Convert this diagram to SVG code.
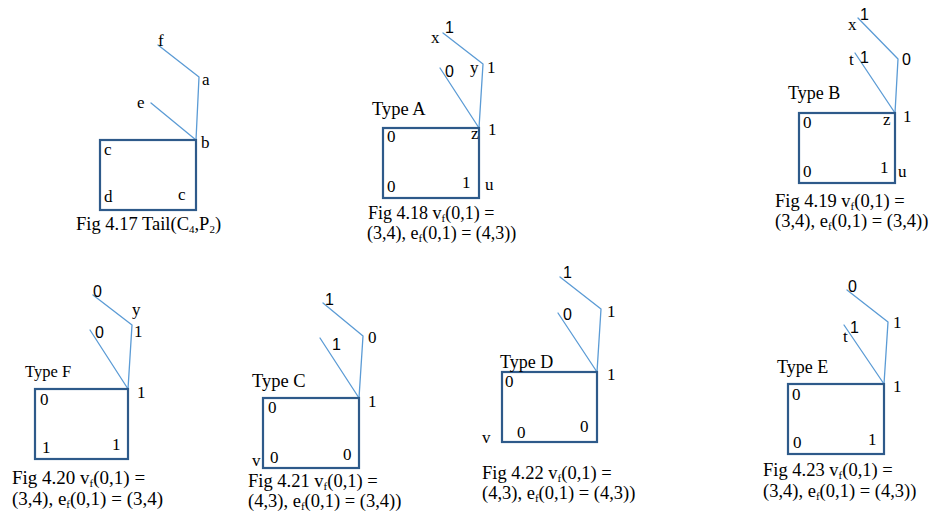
<svg xmlns="http://www.w3.org/2000/svg" width="933" height="525" viewBox="0 0 933 525">
<style>
.bg{fill:#ffffff}
.edge{stroke:#5B9BD5;stroke-width:1.3;fill:none;stroke-linecap:round;stroke-linejoin:round}
.box{stroke:#2E5A8A;stroke-width:2.2;fill:none}
.t{font-family:"Liberation Serif","Times New Roman",serif;font-size:17px;fill:#000}
.s{font-family:"Liberation Sans",Arial,sans-serif;font-size:16px;fill:#000}
.sub{font-size:11px}
</style>
<rect class="bg" x="0" y="0" width="933" height="525"/>

<g id="fig417">
  <g id="fig417-connectors">
    <polyline class="edge" points="158,45 199,77 196,140"/>
    <line class="edge" x1="151" y1="103" x2="196" y2="140"/>
  </g>
  <g id="fig417-cycle"><rect class="box" x="100" y="140" width="96" height="70"/></g>
  <g id="fig417-labels">
    <text class="t" x="158" y="46">f</text>
    <text class="t" x="202" y="85">a</text>
    <text class="t" x="137" y="108">e</text>
    <text class="t" x="201" y="148">b</text>
    <text class="t" x="104" y="155">c</text>
    <text class="t" x="104" y="202">d</text>
    <text class="t" x="178" y="200">c</text>
    <text class="t" x="76" y="230" style="font-size:18.5px">Fig 4.17 Tail(C<tspan class="sub" dy="3">4</tspan><tspan dy="-3">,P</tspan><tspan class="sub" dy="3">2</tspan><tspan dy="-3">)</tspan></text>
  </g>
</g>

<g id="fig418">
  <g id="fig418-connectors">
    <polyline class="edge" points="443,33 483,64 479,128"/>
    <line class="edge" x1="440" y1="68" x2="479" y2="128"/>
  </g>
  <g id="fig418-cycle"><rect class="box" x="383" y="128" width="96" height="70"/></g>
  <g id="fig418-labels">
    <text class="t" x="431" y="43">x</text>
    <text class="s" x="445" y="33">1</text>
    <text class="s" x="445" y="77">0</text>
    <text class="t" x="470" y="73">y</text>
    <text class="t" x="487" y="73">1</text>
    <text class="t" x="372" y="115" style="font-size:18.5px">Type A</text>
    <text class="t" x="488" y="135">1</text>
    <text class="t" x="471" y="139">z</text>
    <text class="t" x="387" y="142">0</text>
    <text class="t" x="387" y="192">0</text>
    <text class="t" x="462" y="188">1</text>
    <text class="t" x="485" y="190">u</text>
    <text class="t" x="368" y="219" style="font-size:18px">Fig 4.18 v<tspan class="sub" dy="3">f</tspan><tspan dy="-3">(0,1) =</tspan></text>
    <text class="t" x="367" y="239" style="font-size:18px">(3,4), e<tspan class="sub" dy="3">f</tspan><tspan dy="-3">(0,1) = (4,3))</tspan></text>
  </g>
</g>

<g id="fig419">
  <g id="fig419-connectors">
    <polyline class="edge" points="858,18 898,59 895,113"/>
    <line class="edge" x1="855" y1="53" x2="895" y2="113"/>
  </g>
  <g id="fig419-cycle"><rect class="box" x="799" y="113" width="96" height="70"/></g>
  <g id="fig419-labels">
    <text class="t" x="848" y="30">x</text>
    <text class="s" x="860" y="20">1</text>
    <text class="s" x="902" y="65">0</text>
    <text class="t" x="849" y="65">t</text>
    <text class="s" x="860" y="63">1</text>
    <text class="t" x="788" y="99" style="font-size:18px">Type B</text>
    <text class="t" x="903" y="122">1</text>
    <text class="t" x="883" y="125">z</text>
    <text class="t" x="803" y="128">0</text>
    <text class="t" x="803" y="177">0</text>
    <text class="t" x="880" y="173">1</text>
    <text class="t" x="898" y="177">u</text>
    <text class="t" x="775" y="207" style="font-size:18.5px">Fig 4.19 v<tspan class="sub" dy="3">f</tspan><tspan dy="-3">(0,1) =</tspan></text>
    <text class="t" x="775" y="227" style="font-size:18.5px">(3,4), e<tspan class="sub" dy="3">f</tspan><tspan dy="-3">(0,1) = (3,4))</tspan></text>
  </g>
</g>

<g id="fig420">
  <g id="fig420-connectors">
    <polyline class="edge" points="93,295 132,325 128,389"/>
    <line class="edge" x1="90" y1="330" x2="128" y2="389"/>
  </g>
  <g id="fig420-cycle"><rect class="box" x="35" y="389" width="93" height="70"/></g>
  <g id="fig420-labels">
    <text class="s" x="93" y="297">0</text>
    <text class="t" x="132" y="315">y</text>
    <text class="t" x="134" y="337">1</text>
    <text class="s" x="95" y="338">0</text>
    <text class="t" x="25" y="377" style="font-size:16.5px">Type F</text>
    <text class="t" x="137" y="398">1</text>
    <text class="t" x="40" y="405">0</text>
    <text class="t" x="42" y="453">1</text>
    <text class="t" x="112" y="450">1</text>
    <text class="t" x="12" y="484" style="font-size:19px">Fig 4.20 v<tspan class="sub" dy="3">f</tspan><tspan dy="-3">(0,1) =</tspan></text>
    <text class="t" x="12" y="505" style="font-size:19px">(3,4), e<tspan class="sub" dy="3">f</tspan><tspan dy="-3">(0,1) = (3,4)</tspan></text>
  </g>
</g>

<g id="fig421">
  <g id="fig421-connectors">
    <polyline class="edge" points="323,303 363,336 359,398"/>
    <line class="edge" x1="320" y1="338" x2="359" y2="398"/>
  </g>
  <g id="fig421-cycle"><rect class="box" x="263" y="398" width="96" height="70"/></g>
  <g id="fig421-labels">
    <text class="s" x="325" y="305">1</text>
    <text class="t" x="368" y="343">0</text>
    <text class="s" x="332" y="350">1</text>
    <text class="t" x="252" y="387" style="font-size:18.5px">Type C</text>
    <text class="t" x="368" y="407">1</text>
    <text class="t" x="268" y="413">0</text>
    <text class="t" x="252" y="466">v</text>
    <text class="t" x="270" y="463">0</text>
    <text class="t" x="343" y="460">0</text>
    <text class="t" x="248" y="487" style="font-size:18.5px">Fig 4.21 v<tspan class="sub" dy="3">f</tspan><tspan dy="-3">(0,1) =</tspan></text>
    <text class="t" x="248" y="507" style="font-size:18.5px">(4,3), e<tspan class="sub" dy="3">f</tspan><tspan dy="-3">(0,1) = (3,4))</tspan></text>
  </g>
</g>

<g id="fig422">
  <g id="fig422-connectors">
    <polyline class="edge" points="560,277 601,309 597,372"/>
    <line class="edge" x1="558" y1="313" x2="597" y2="372"/>
  </g>
  <g id="fig422-cycle"><rect class="box" x="502" y="372" width="95" height="70"/></g>
  <g id="fig422-labels">
    <text class="s" x="563" y="278">1</text>
    <text class="t" x="607" y="317">1</text>
    <text class="s" x="563" y="320">0</text>
    <text class="t" x="500" y="368" style="font-size:18px">Type D</text>
    <text class="t" x="607" y="380">1</text>
    <text class="t" x="505" y="387">0</text>
    <text class="t" x="482" y="443">v</text>
    <text class="t" x="517" y="438">0</text>
    <text class="t" x="580" y="432">0</text>
    <text class="t" x="482" y="479" style="font-size:18.5px">Fig 4.22 v<tspan class="sub" dy="3">f</tspan><tspan dy="-3">(0,1) =</tspan></text>
    <text class="t" x="482" y="499" style="font-size:18.5px">(4,3), e<tspan class="sub" dy="3">f</tspan><tspan dy="-3">(0,1) = (4,3))</tspan></text>
  </g>
</g>

<g id="fig423">
  <g id="fig423-connectors">
    <polyline class="edge" points="847,290 888,322 884,384"/>
    <line class="edge" x1="844" y1="325" x2="884" y2="384"/>
  </g>
  <g id="fig423-cycle"><rect class="box" x="788" y="384" width="96" height="70"/></g>
  <g id="fig423-labels">
    <text class="s" x="848" y="292">0</text>
    <text class="t" x="893" y="328">1</text>
    <text class="t" x="843" y="342">t</text>
    <text class="s" x="850" y="333">1</text>
    <text class="t" x="777" y="373" style="font-size:18px">Type E</text>
    <text class="t" x="893" y="392">1</text>
    <text class="t" x="792" y="400">0</text>
    <text class="t" x="793" y="448">0</text>
    <text class="t" x="868" y="445">1</text>
    <text class="t" x="763" y="476" style="font-size:18.5px">Fig 4.23 v<tspan class="sub" dy="3">f</tspan><tspan dy="-3">(0,1) =</tspan></text>
    <text class="t" x="763" y="497" style="font-size:18.5px">(3,4), e<tspan class="sub" dy="3">f</tspan><tspan dy="-3">(0,1) = (4,3))</tspan></text>
  </g>
</g>
</svg>
